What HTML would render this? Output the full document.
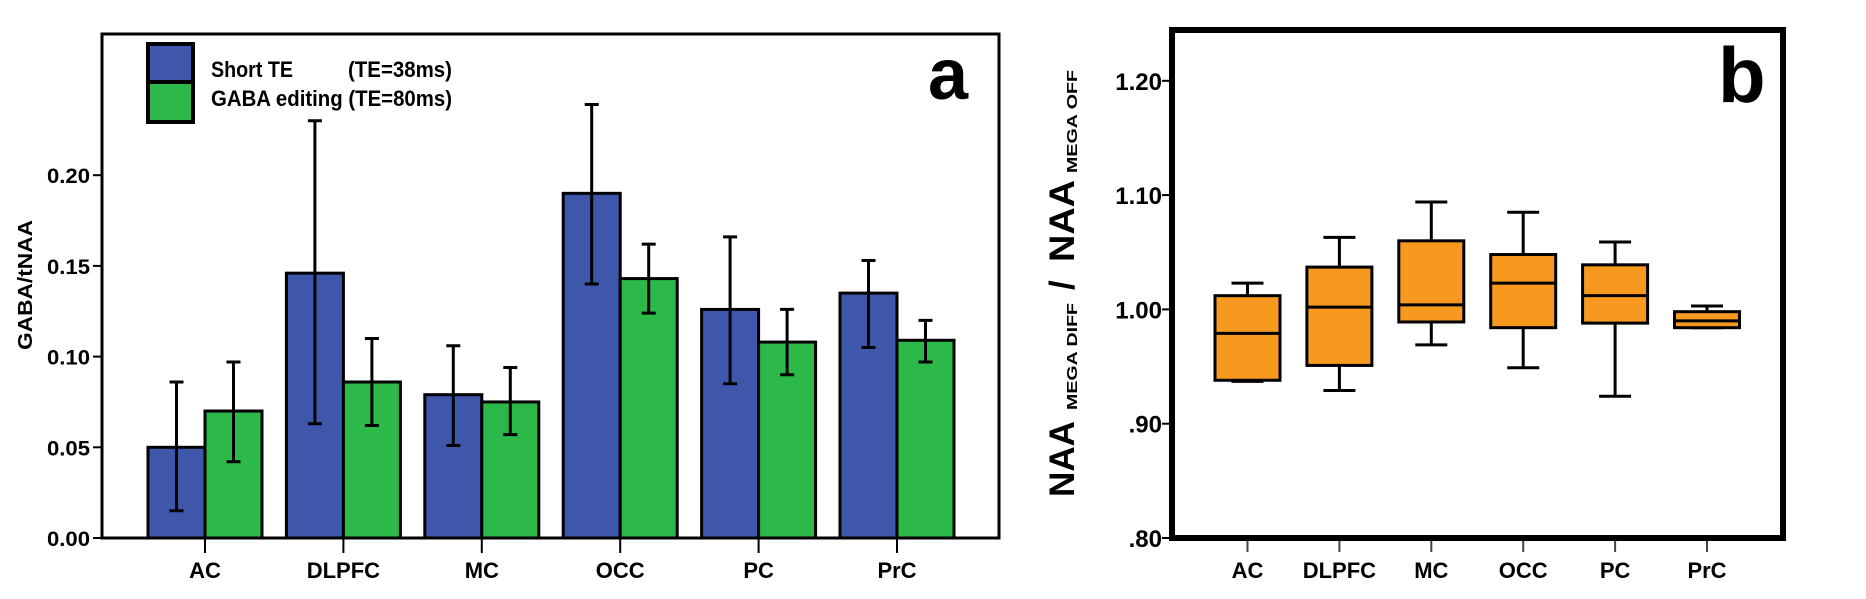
<!DOCTYPE html>
<html><head><meta charset="utf-8">
<style>
html,body{margin:0;padding:0;background:#fff;}
svg{display:block;}
text{font-family:"Liberation Sans",sans-serif;font-weight:bold;fill:#000;}
</style></head>
<body>
<svg id="chart" width="1866" height="599" viewBox="0 0 1866 599" xmlns="http://www.w3.org/2000/svg">
  <g id="panelA"></g>
  <g id="panelB"></g>
</svg>
<script>
const NS = "http://www.w3.org/2000/svg";
// Panel A data
const catsA = ["AC","DLPFC","MC","OCC","PC","PrC"];
const shortTE = [0.050,0.146,0.079,0.190,0.126,0.135];
const shortLo = [0.015,0.063,0.051,0.140,0.085,0.105];
const shortHi = [0.086,0.230,0.106,0.239,0.166,0.153];
const gabaEd = [0.070,0.086,0.075,0.143,0.108,0.109];
const gabaLo = [0.042,0.062,0.057,0.124,0.090,0.097];
const gabaHi = [0.097,0.110,0.094,0.162,0.126,0.120];
const ticksA = [0,0.05,0.10,0.15,0.20];
const tickLabelsA = ["0.00","0.05","0.10","0.15","0.20"];
// Panel B data
const catsB = ["AC","DLPFC","MC","OCC","PC","PrC"];
const bMin = [0.937,0.929,0.969,0.949,0.924,0.984];
const bQ1  = [0.938,0.951,0.989,0.984,0.988,0.984];
const bMed = [0.979,1.002,1.004,1.023,1.012,0.990];
const bQ3  = [1.012,1.037,1.060,1.048,1.039,0.998];
const bMax = [1.023,1.063,1.094,1.085,1.059,1.003];
const ticksB = [0.80,0.90,1.00,1.10,1.20];
const tickLabelsB = [".80",".90","1.00","1.10","1.20"];

function mk(parent, tag, attrs, text){
  const e = document.createElementNS(NS, tag);
  for (const k in attrs) e.setAttribute(k, attrs[k]);
  if (text !== undefined) e.textContent = text;
  parent.appendChild(e);
  return e;
}

// ---------- Panel A ----------
const A = document.getElementById('panelA');
const aL=102, aR=999, aT=34, aB=538;
const yA = v => aB - v/0.05*90.7;
const xA = i => 205 + i*138.4;
const bw = 57;

ticksA.forEach((t,i)=>{
  const y=yA(t);
  const tk = mk(A,'line',{x1:aL-9,x2:aL,y1:y,y2:y,stroke:'#000','stroke-width':2});
  
  
  const lb = mk(A,'text',{x:47,y:y+8,'font-size':21,textLength:43,lengthAdjust:'spacingAndGlyphs'},tickLabelsA[i]);
  
  
});
catsA.forEach((c,i)=>{
  const x=xA(i);
  const tk = mk(A,'line',{x1:x,x2:x,y1:aB,y2:aB+15,stroke:'#000','stroke-width':2});
  
  
  const lb = mk(A,'text',{x:x,y:578,'font-size':22,'text-anchor':'middle'},c);
  
  
  const series=[[shortTE,shortLo,shortHi,'#3f57aa',-bw],[gabaEd,gabaLo,gabaHi,'#2db84a',0]];
  series.forEach((s,j)=>{
    const v=s[0][i], y=yA(v);
    const r = mk(A,'rect',{x:x+s[4],y:y,width:bw,height:aB-y,fill:s[3],stroke:'#000','stroke-width':3});
    
    
    const cx=x+s[4]+bw/2, lo=yA(s[1][i]), hi=yA(s[2][i]);
    const eb = mk(A,'path',{d:`M${cx},${lo}V${hi}M${cx-7},${lo}H${cx+7}M${cx-7},${hi}H${cx+7}`,stroke:'#000','stroke-width':3,fill:'none'});
    
    
  });
});
const frA = mk(A,'rect',{x:aL,y:aT,width:aR-aL,height:aB-aT,fill:'none',stroke:'#000','stroke-width':3});


const ytA = mk(A,'text',{x:0,y:0,'font-size':20,'text-anchor':'middle',textLength:130,lengthAdjust:'spacingAndGlyphs',transform:'translate(32,285) rotate(-90)'},'GABA/tNAA');


const la = mk(A,'text',{x:928,y:99,'font-size':72},'a');


// legend
const lg = mk(A,'g',{});


const l1 = mk(lg,'rect',{x:148,y:44,width:45,height:38,fill:'#3f57aa',stroke:'#000','stroke-width':4});


const l2 = mk(lg,'rect',{x:148,y:82,width:45,height:40,fill:'#2db84a',stroke:'#000','stroke-width':4});


const t1 = mk(lg,'text',{x:211,y:77,'font-size':22,textLength:82,lengthAdjust:'spacingAndGlyphs'},'Short TE');


const t1b = mk(lg,'text',{x:348,y:77,'font-size':22,textLength:104,lengthAdjust:'spacingAndGlyphs'},'(TE=38ms)');


const t2 = mk(lg,'text',{x:211,y:106,'font-size':22,textLength:241,lengthAdjust:'spacingAndGlyphs'},'GABA editing (TE=80ms)');



// ---------- Panel B ----------
const B = document.getElementById('panelB');
const bL=1172, bR=1783, bT=30, bB=538;
const yB = v => bB - (v-0.80)/0.10*114.3;
const xB = i => 1247.5 + i*91.9;
const boxW=65, capW=32;
ticksB.forEach((t,i)=>{
  const y=yB(t);
  const tk = mk(B,'line',{x1:bL-10,x2:bL,y1:y,y2:y,stroke:'#000','stroke-width':2});
  
  
  const lb = mk(B,'text',{x:1162,y:y+9,'font-size':24,'text-anchor':'end'},tickLabelsB[i]);
  
  
});
catsB.forEach((c,i)=>{
  const x=xB(i);
  const tk = mk(B,'line',{x1:x,x2:x,y1:bB+3,y2:bB+14,stroke:'#444','stroke-width':2});
  
  
  const lb = mk(B,'text',{x:x,y:578,'font-size':22,'text-anchor':'middle'},c);
  
  
  const wk = mk(B,'path',{d:`M${x},${yB(bMin[i])}V${yB(bQ1[i])}M${x},${yB(bQ3[i])}V${yB(bMax[i])}M${x-capW/2},${yB(bMin[i])}H${x+capW/2}M${x-capW/2},${yB(bMax[i])}H${x+capW/2}`,stroke:'#000','stroke-width':3,fill:'none'});
  
  
  const bx = mk(B,'rect',{x:x-boxW/2,y:yB(bQ3[i]),width:boxW,height:yB(bQ1[i])-yB(bQ3[i]),fill:'#f7991f',stroke:'#000','stroke-width':3});
  
  
  const md = mk(B,'line',{x1:x-boxW/2,x2:x+boxW/2,y1:yB(bMed[i]),y2:yB(bMed[i]),stroke:'#000','stroke-width':3});
  
  
});
const frB = mk(B,'rect',{x:bL,y:bT,width:bR-bL,height:bB-bT,fill:'none',stroke:'#000','stroke-width':6});


const lbB = mk(B,'text',{x:1718,y:102,'font-size':78},'b');


// y title pieces (rotated): text, baseline x, start y (bottom), length, font size
const ytB = mk(B,'g',{});


const parts = [["NAA",1074,497,76,35],["MEGA DIFF",1077,410,107,15],["NAA",1074,262,82,35],["MEGA OFF",1077,173,103,15]];
parts.forEach(p=>{
  mk(ytB,'text',{x:0,y:0,'font-size':p[4],textLength:p[3],lengthAdjust:'spacingAndGlyphs',transform:`translate(${p[1]},${p[2]}) rotate(-90)`},p[0]);
});
mk(ytB,'text',{x:0,y:0,'font-size':35,transform:'translate(1074,290) rotate(-90)'},'/');
</script>
</body></html>
